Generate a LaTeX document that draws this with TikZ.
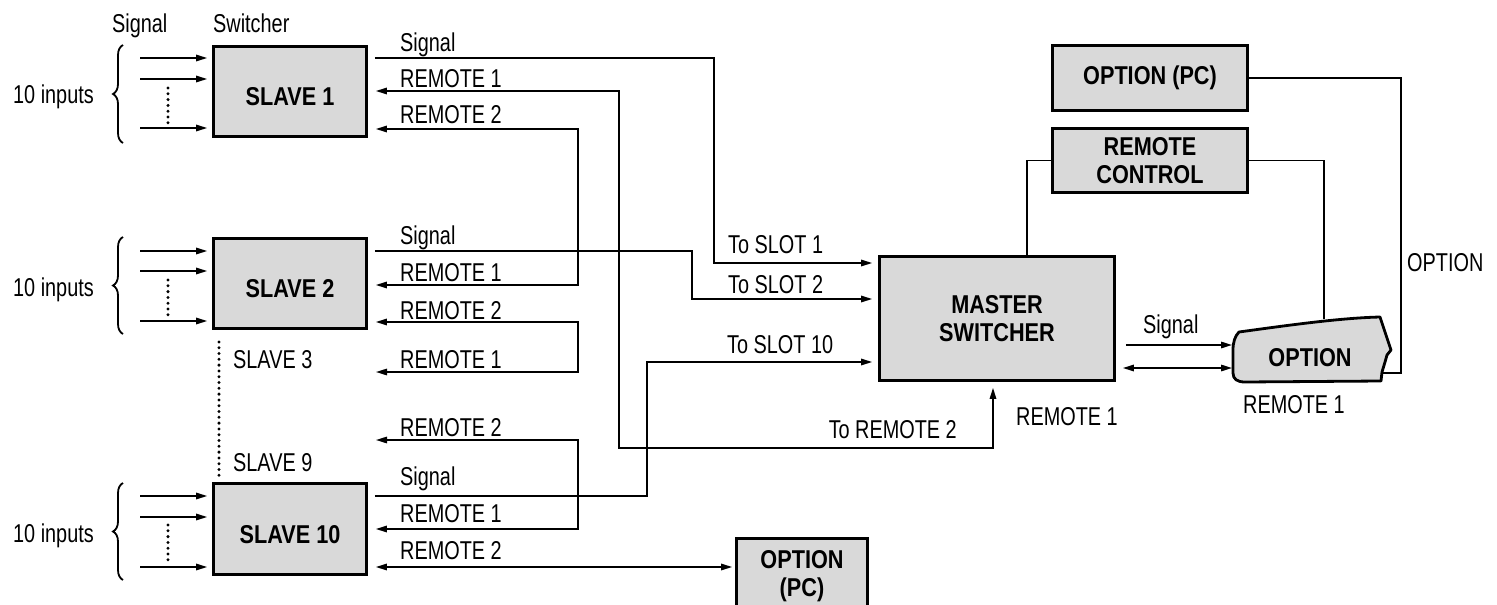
\documentclass[tikz,border=0pt]{standalone}
\usepackage{fontspec}
\setmainfont{Liberation Sans}[FakeStretch=0.77]
\newfontfamily\bfam{Liberation Sans}[FakeStretch=0.84]
\usetikzlibrary{arrows.meta,decorations.pathreplacing}
\definecolor{boxgray}{RGB}{217,217,217}
\begin{document}
\begin{tikzpicture}[x=1pt,y=-1pt,
  >={Triangle[length=11pt,width=6.5pt]},
  every node/.style={font=\fontsize{25.8}{28}\selectfont, inner sep=0pt},
  box/.style={draw, line width=2.8pt, fill=boxgray, align=center, font=\fontsize{25.8}{28}\selectfont\bfam\bfseries},
  low/.style={text height=28pt, text depth=0pt},
  wire/.style={line width=1.5pt},
  lbl/.style={anchor=base west},
  lble/.style={anchor=base east},
  dots/.style={line width=3.3pt, line cap=round, dash pattern=on 0pt off 5.8pt},
  brc/.style={line width=1.8pt, decorate, decoration={brace, amplitude=10pt}}
]
\useasboundingbox (0,0) rectangle (1497,605);
\clip (0,0) rectangle (1497,605);

% ---- boxes
\node[box, low, minimum width=153pt, minimum height=90pt] (s1) at (290,91.5) {SLAVE 1};
\node[box, low, minimum width=153pt, minimum height=90pt] (s2) at (290,283.5) {SLAVE 2};
\node[box, low, minimum width=153pt, minimum height=91pt] (s10) at (290,529) {SLAVE 10};
\node[box, minimum width=235pt, minimum height=124pt] (m) at (997,318.5) {MASTER\\SWITCHER};
\node[box, minimum width=195pt, minimum height=64pt] (rc) at (1150,160.5) {REMOTE\\CONTROL};
\node[box, minimum width=195pt, minimum height=65pt] (opc1) at (1150,78) {OPTION (PC)};
\node[box, minimum width=131pt, minimum height=76pt, anchor=north] (opc2) at (802,537) {OPTION\\(PC)};

% ---- OPTION shape
\draw[line width=2.8pt, fill=boxgray, line join=round]
  (1239,332) .. controls (1290,325) and (1340,318) .. (1380,317)
  -- (1391,350) -- (1387,355) -- (1385,362) -- (1382,372) -- (1381,381)
  -- (1245,382) .. controls (1237,382) and (1233,379) .. (1233,373)
  -- (1233,350) .. controls (1233,342) and (1235,336) .. (1239,332) -- cycle;
\node[font=\fontsize{25.8}{28}\selectfont\bfam\bfseries] (opt) at (1310,357.5) {OPTION};
\coordinate (optA) at (1232,345);
\coordinate (optB) at (1232,368);
\coordinate (optT) at (1324,318.5);
\coordinate (optR) at (1383,373);

% ---- top labels
\node[lbl] (lsig) at (112,32) {Signal};
\node[lbl] (lsw) at (213,32) {Switcher};

% ---- inputs slave 1
\coordinate (i1a) at (140,58); \coordinate (i1b) at (140,79); \coordinate (i1c) at (140,128);
\draw[wire,->,shorten >=5pt] (i1a) -- (s1.west |- i1a);
\draw[wire,->,shorten >=5pt] (i1b) -- (s1.west |- i1b);
\draw[wire,->,shorten >=5pt] (i1c) -- (s1.west |- i1c);
\draw[dots] (168,88) -- (168,124);
\draw[brc] (123,143) -- (123,45);
\node[lble] (in1) at (94,103) {10 inputs};

% ---- inputs slave 2
\coordinate (i2a) at (140,251); \coordinate (i2b) at (140,271); \coordinate (i2c) at (140,321);
\draw[wire,->,shorten >=5pt] (i2a) -- (s2.west |- i2a);
\draw[wire,->,shorten >=5pt] (i2b) -- (s2.west |- i2b);
\draw[wire,->,shorten >=5pt] (i2c) -- (s2.west |- i2c);
\draw[dots] (168,280) -- (168,316);
\draw[brc] (123,334) -- (123,237);
\node[lble] (in2) at (94,296) {10 inputs};

% ---- inputs slave 10
\coordinate (i3a) at (140,496); \coordinate (i3b) at (140,517); \coordinate (i3c) at (140,567);
\draw[wire,->,shorten >=5pt] (i3a) -- (s10.west |- i3a);
\draw[wire,->,shorten >=5pt] (i3b) -- (s10.west |- i3b);
\draw[wire,->,shorten >=5pt] (i3c) -- (s10.west |- i3c);
\draw[dots] (168,525) -- (168,561);
\draw[brc] (123,580) -- (123,483);
\node[lble] (in3) at (94,542) {10 inputs};

% ---- slaves 3..9
\draw[dots, shorten <=12pt, shorten >=5pt] (s2.south -| 219,0) -- (s10.north -| 219,0);
\node[lbl] (sl3) at (233,368) {SLAVE 3};
\node[lbl] (sl9) at (233,471) {SLAVE 9};

% ---- signals to master
\draw[wire,->,shorten <=7pt,shorten >=6pt] (s1.east |- 0,58) -- (714,58) -- (714,263) -- (m.west |- 0,263);
\draw[wire,->,shorten <=7pt,shorten >=6pt] (s2.east |- 0,251) -- (692,251) -- (692,299) -- (m.west |- 0,299);
\draw[wire,->,shorten <=7pt,shorten >=6pt] (s10.east |- 0,496) -- (647,496) -- (647,362) -- (m.west |- 0,362);

% ---- remote chain
\draw[wire,<->,shorten <=8pt,shorten >=6pt] (s1.east |- 0,91) -- (619,91) -- (619,448) -- (993,448) -- (m.south -| 993,0);
\draw[wire,<->,shorten <=8pt,shorten >=8pt] (s1.east |- 0,129) -- (578,129) -- (578,285) -- (s2.east |- 0,285);
\coordinate (s3in) at (376,372);
\draw[wire,<->,shorten <=8pt] (s2.east |- 0,322) -- (578,322) -- (578,372) -- (s3in);
\coordinate (s9out) at (376,440);
\draw[wire,<->,shorten >=8pt] (s9out) -- (578,440) -- (578,529) -- (s10.east |- 0,529);
\draw[wire,<->,shorten <=8pt,shorten >=3pt] (s10.east |- 0,567) -- (opc2.west |- 0,567);

% ---- wire labels
\node[lbl] at (400,51) {Signal};
\node[lbl] at (400,87) {REMOTE 1};
\node[lbl] at (400,123) {REMOTE 2};
\node[lbl] at (400,244) {Signal};
\node[lbl] at (400,281) {REMOTE 1};
\node[lbl] at (400,319) {REMOTE 2};
\node[lbl] at (400,368) {REMOTE 1};
\node[lbl] at (400,436) {REMOTE 2};
\node[lbl] at (400,485) {Signal};
\node[lbl] at (400,522) {REMOTE 1};
\node[lbl] at (400,559) {REMOTE 2};
\node[lbl] at (728,253) {To SLOT 1};
\node[lbl] at (728,293) {To SLOT 2};
\node[lbl] at (727,353) {To SLOT 10};
\node[lble] at (957,438) {To REMOTE 2};

% ---- master to right side
\draw[wire,->,shorten <=10pt] (m.east |- optA) -- (optA);
\draw[wire,<->,shorten <=7pt] (m.east |- optB) -- (optB);
\draw[wire] (rc.west) -- (1027,160.5) -- (m.north -| 1027,0);
\draw[wire] (rc.east) -- (1324,160.5) -- (optT);
\draw[wire] (opc1.east) -- (1401,78) -- (1401,373) -- (optR);

\node[lbl] at (1143,333) {Signal};
\node[lbl] at (1016,425) {REMOTE 1};
\node[lbl] at (1243,413) {REMOTE 1};
\node[lbl] at (1407,271) {OPTION};
\end{tikzpicture}
\end{document}
